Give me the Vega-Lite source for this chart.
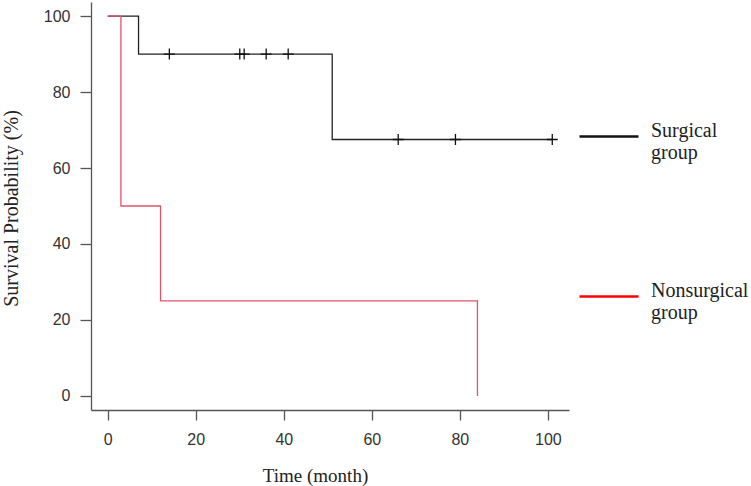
{
  "$schema": "https://vega.github.io/schema/vega-lite/v6.json",
  "autosize": "none",
  "width": 478,
  "height": 408,
  "padding": {"left": 91, "top": 2, "right": 182, "bottom": 76},
  "background": "white",
  "config": {
    "view": {"stroke": null},
    "axis": {
      "grid": false,
      "domainColor": "#555",
      "domainWidth": 1.3,
      "tickColor": "#555",
      "tickWidth": 1.3,
      "labelFont": "Liberation Sans",
      "labelFontSize": 16,
      "labelColor": "#333",
      "titleFont": "Liberation Serif",
      "titleFontSize": 19,
      "titleFontWeight": "normal",
      "titleColor": "#222"
    }
  },
  "datasets": {
    "curve": [
      {"group": "Surgical group", "time": 0, "surv": 100},
      {"group": "Surgical group", "time": 7, "surv": 90},
      {"group": "Surgical group", "time": 51, "surv": 67.5},
      {"group": "Surgical group", "time": 101, "surv": 67.5},
      {"group": "Nonsurgical group", "time": 0, "surv": 100},
      {"group": "Nonsurgical group", "time": 3, "surv": 50},
      {"group": "Nonsurgical group", "time": 12, "surv": 25},
      {"group": "Nonsurgical group", "time": 84, "surv": 0}
    ],
    "censor": [
      {"group": "Surgical group", "time": 14, "surv": 90},
      {"group": "Surgical group", "time": 30, "surv": 90},
      {"group": "Surgical group", "time": 31, "surv": 90},
      {"group": "Surgical group", "time": 36, "surv": 90},
      {"group": "Surgical group", "time": 41, "surv": 90},
      {"group": "Surgical group", "time": 66, "surv": 67.5},
      {"group": "Surgical group", "time": 79, "surv": 67.5},
      {"group": "Surgical group", "time": 101, "surv": 67.5}
    ]
  },
  "layer": [
    {
      "data": {"name": "curve"},
      "mark": {"type": "line", "interpolate": "step-after", "strokeWidth": 1.3},
      "encoding": {
        "x": {
          "field": "time",
          "type": "quantitative",
          "scale": {"domain": [-3.8, 104.8], "nice": false, "zero": false},
          "axis": {
            "values": [0, 20, 40, 60, 80, 100],
            "tickSize": 10,
            "labelPadding": 11,
            "title": "Time (month)",
            "titleAnchor": null,
            "titleAlign": "center",
            "titleBaseline": "alphabetic",
            "titleX": 224,
            "titleY": 71
          }
        },
        "y": {
          "field": "surv",
          "type": "quantitative",
          "scale": {"domain": [-3.7, 103.7], "nice": false, "zero": false},
          "axis": {
            "values": [0, 20, 40, 60, 80, 100],
            "tickSize": 11,
            "labelPadding": 10,
            "title": "Survival Probability (%)",
            "titleFontSize": 20,
            "titleAlign": "center",
            "titleBaseline": "alphabetic",
            "titleAngle": 270,
            "titleX": -74,
            "titleY": 206
          }
        },
        "stroke": {
          "field": "group",
          "type": "nominal",
          "scale": {
            "domain": ["Nonsurgical group", "Surgical group"],
            "range": ["#DF536B", "#222222"]
          },
          "legend": null
        },
        "order": {"field": "time", "type": "quantitative"}
      }
    },
    {
      "data": {"name": "censor"},
      "mark": {
        "type": "point",
        "shape": "M0,-1V1M-1,0H1",
        "filled": false,
        "size": 121,
        "strokeWidth": 1.3,
        "opacity": 1
      },
      "encoding": {
        "x": {"field": "time", "type": "quantitative"},
        "y": {"field": "surv", "type": "quantitative"},
        "color": {
          "field": "group",
          "type": "nominal",
          "scale": {
            "domain": ["Surgical group", "Nonsurgical group"],
            "range": ["#111111", "#ff0000"]
          },
          "legend": {
            "title": null,
            "orient": "none",
            "legendX": 487,
            "legendY": 103.5,
            "padding": 0,
            "symbolType": "stroke",
            "symbolSize": 3481,
            "symbolStrokeWidth": 2.5,
            "symbolOffset": 0,
            "labelOffset": 11,
            "labelFont": "Liberation Serif",
            "labelFontSize": 20,
            "labelColor": "#222",
            "labelLimit": 200,
            "labelBaseline": "alphabetic",
            "rowPadding": 103,
            "labelExpr": "split(datum.label, ' ')"
          }
        }
      }
    }
  ]
}
